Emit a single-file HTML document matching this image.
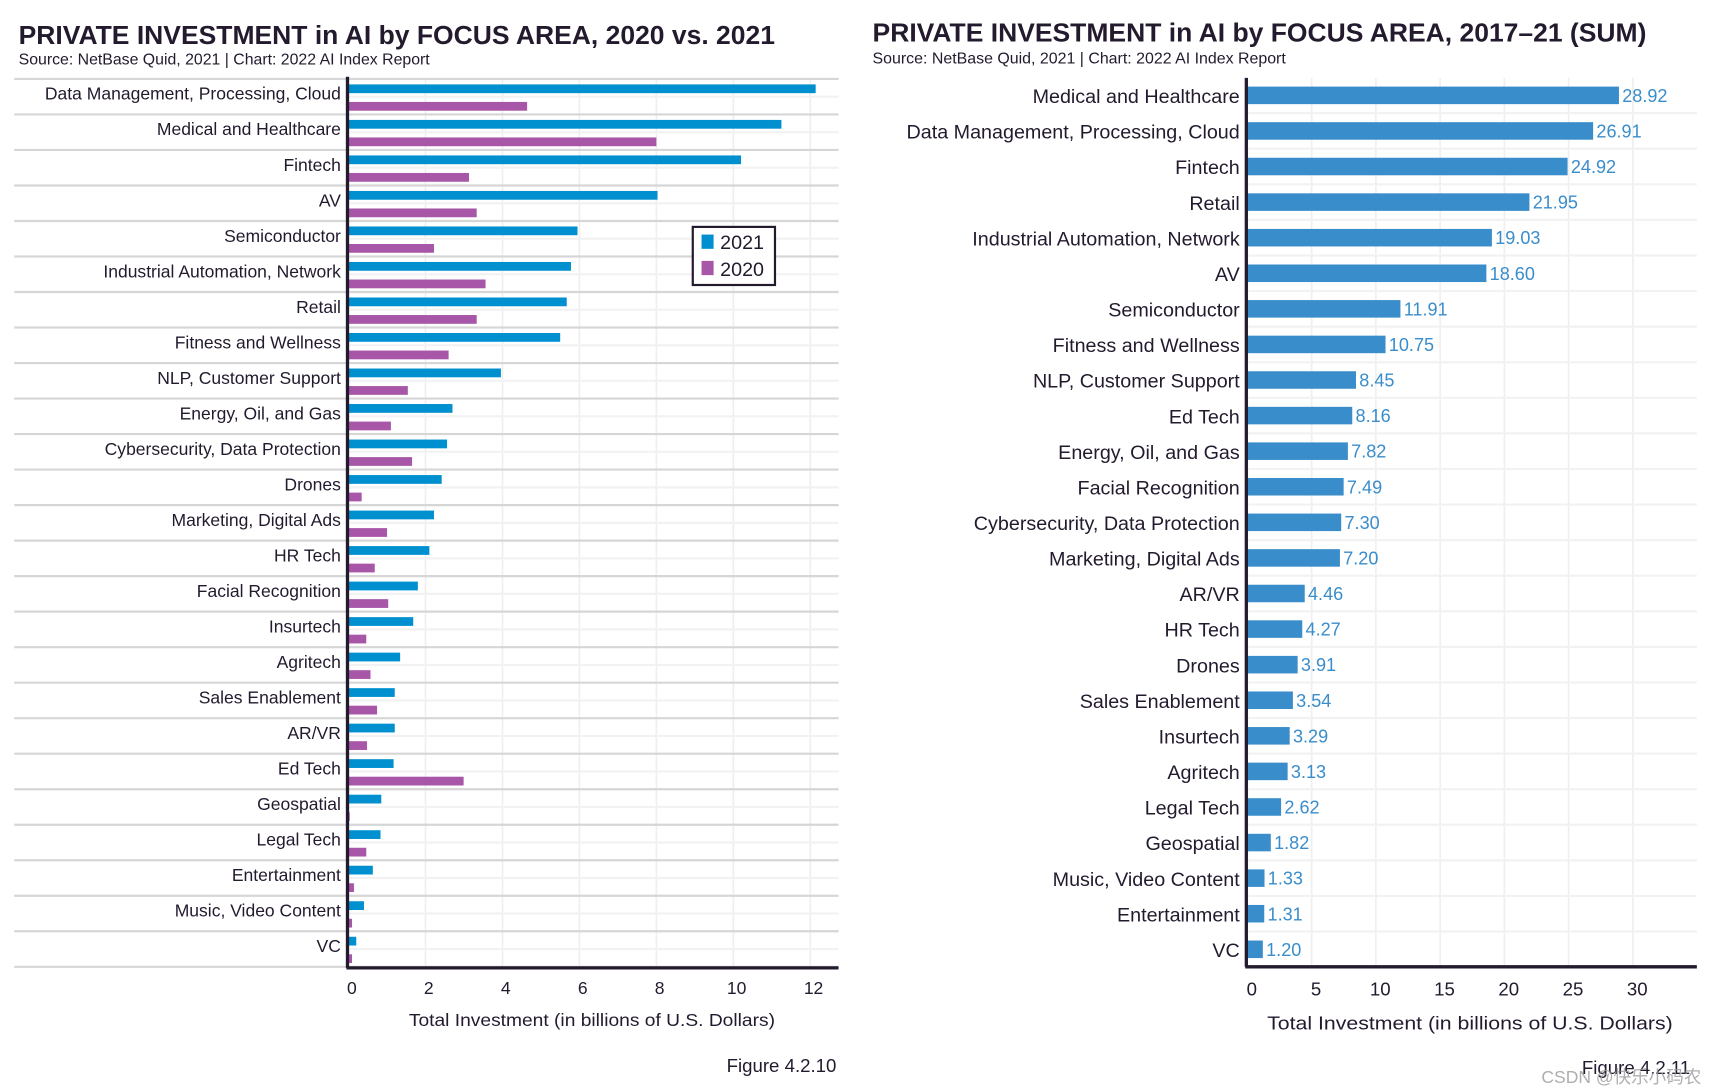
<!DOCTYPE html>
<html><head><meta charset="utf-8"><style>
html,body{margin:0;padding:0;background:#fff;}
svg{display:block;font-family:"Liberation Sans","Noto Sans CJK SC",sans-serif;}
</style></head><body>
<svg id="chart" width="1710" height="1090" viewBox="0 0 1560 994.4" preserveAspectRatio="none" xmlns="http://www.w3.org/2000/svg">
<text x="17" y="40" font-size="24" font-weight="bold" fill="#231a2e" textLength="690" lengthAdjust="spacingAndGlyphs">PRIVATE INVESTMENT in AI by FOCUS AREA, 2020 vs. 2021</text>
<text x="17" y="59" font-size="14" fill="#231a2e" textLength="375" lengthAdjust="spacingAndGlyphs">Source: NetBase Quid, 2021 | Chart: 2022 AI Index Report</text>
<text x="796" y="38" font-size="24" font-weight="bold" fill="#231a2e" textLength="706" lengthAdjust="spacingAndGlyphs">PRIVATE INVESTMENT in AI by FOCUS AREA, 2017–21 (SUM)</text>
<text x="796" y="58" font-size="14" fill="#231a2e" textLength="377" lengthAdjust="spacingAndGlyphs">Source: NetBase Quid, 2021 | Chart: 2022 AI Index Report</text>
<g id="left"></g>
<g id="right"></g>
<g>
<rect x="632" y="207" width="75" height="53" fill="#fff" stroke="#231a2e" stroke-width="2"/>
<rect x="640" y="214" width="11" height="13" fill="#0090cf"/>
<text x="657" y="227" font-size="18" fill="#231a2e">2021</text>
<rect x="640" y="238" width="11" height="13" fill="#a857a8"/>
<text x="657" y="252" font-size="18" fill="#231a2e">2020</text>
</g>
<text x="540" y="936" font-size="16" fill="#231a2e" text-anchor="middle" textLength="334" lengthAdjust="spacingAndGlyphs">Total Investment (in billions of U.S. Dollars)</text>
<text x="1341" y="939" font-size="17" fill="#231a2e" text-anchor="middle" textLength="370" lengthAdjust="spacingAndGlyphs">Total Investment (in billions of U.S. Dollars)</text>
<text x="763" y="978" font-size="17" fill="#231a2e" text-anchor="end">Figure 4.2.10</text>
<text x="1542" y="980" font-size="17" fill="#231a2e" text-anchor="end">Figure 4.2.11</text>
<text x="1552" y="988" font-size="16" fill="#9a9a9a" text-anchor="end" opacity="0.8">CSDN @快乐小码农</text>
</svg>
<script>
const leftCats=["Data Management, Processing, Cloud","Medical and Healthcare","Fintech","AV","Semiconductor","Industrial Automation, Network","Retail","Fitness and Wellness","NLP, Customer Support","Energy, Oil, and Gas","Cybersecurity, Data Protection","Drones","Marketing, Digital Ads","HR Tech","Facial Recognition","Insurtech","Agritech","Sales Enablement","AR/VR","Ed Tech","Geospatial","Legal Tech","Entertainment","Music, Video Content","VC"];
const v2021=[12.14,11.25,10.2,8.03,5.95,5.78,5.67,5.5,3.96,2.7,2.56,2.42,2.22,2.1,1.8,1.68,1.34,1.2,1.2,1.17,0.85,0.83,0.63,0.4,0.2];
const v2020=[4.64,8.0,3.13,3.33,2.22,3.56,3.33,2.6,1.54,1.1,1.65,0.34,1.0,0.68,1.03,0.46,0.57,0.74,0.48,2.99,0.03,0.46,0.14,0.09,0.09];
const leftTicks=[0,2,4,6,8,10,12];
const rightCats=["Medical and Healthcare","Data Management, Processing, Cloud","Fintech","Retail","Industrial Automation, Network","AV","Semiconductor","Fitness and Wellness","NLP, Customer Support","Ed Tech","Energy, Oil, and Gas","Facial Recognition","Cybersecurity, Data Protection","Marketing, Digital Ads","AR/VR","HR Tech","Drones","Sales Enablement","Insurtech","Agritech","Legal Tech","Geospatial","Music, Video Content","Entertainment","VC"];
const rightVals=[28.92,26.91,24.92,21.95,19.03,18.60,11.91,10.75,8.45,8.16,7.82,7.49,7.30,7.20,4.46,4.27,3.91,3.54,3.29,3.13,2.62,1.82,1.33,1.31,1.20];
const rightTicks=[0,5,10,15,20,25,30];

const NS="http://www.w3.org/2000/svg";
function mk(p,t,a){const e=document.createElementNS(NS,t);for(const k in a)e.setAttribute(k,a[k]);p.appendChild(e);return e;}
const LG=document.getElementById('left'),RG=document.getElementById('right');
const lx=v=>318+v*35.1, ltop=72, lstep=32.4, lbottom=882;
for(const t of leftTicks){
 const g=mk(LG,'line',{x1:lx(t),x2:lx(t),y1:ltop,y2:lbottom,stroke:'#efefef','stroke-width':1.5});
 
 
 const tx=mk(LG,'text',{x:lx(t)+3,y:907,'font-size':16,fill:'#231a2e','text-anchor':'middle'});tx.textContent=t;
 
 
}
leftCats.forEach((c,i)=>{
 const y0=ltop+i*lstep;
 const s=mk(LG,'line',{x1:13,x2:765,y1:y0,y2:y0,stroke:'#d6d6d6','stroke-width':2});
 
 
 mk(LG,'line',{x1:318,x2:765,y1:y0+lstep/2,y2:y0+lstep/2,stroke:'#f2f2f2','stroke-width':2});
 const b1=mk(LG,'rect',{x:318,y:y0+5,width:lx(v2021[i])-318,height:8,fill:'#0090cf'});
 
 
 const b2=mk(LG,'rect',{x:318,y:y0+21,width:lx(v2020[i])-318,height:8,fill:'#a857a8'});
 
 
 const tl=mk(LG,'text',{x:311,y:y0+19,'font-size':16,fill:'#231a2e','text-anchor':'end'});tl.textContent=c;
 
 
});
mk(LG,'line',{x1:13,x2:765,y1:lbottom,y2:lbottom,stroke:'#d6d6d6','stroke-width':2});
mk(LG,'line',{x1:317,x2:317,y1:ltop-2,y2:lbottom+1,stroke:'#231a2e','stroke-width':3});
mk(LG,'line',{x1:316,x2:765,y1:lbottom+1,y2:lbottom+1,stroke:'#231a2e','stroke-width':3});
const rx=v=>1138+v*11.72, rtop=71, rstep=32.46, rbottom=881;
for(const t of rightTicks){
 const g=mk(RG,'line',{x1:rx(t),x2:rx(t),y1:rtop,y2:rbottom,stroke:'#efefef','stroke-width':1.5});
 
 
 const tx=mk(RG,'text',{x:rx(t)+4,y:908,'font-size':17,fill:'#231a2e','text-anchor':'middle'});tx.textContent=t;
 
 
}
rightCats.forEach((c,i)=>{
 const cy=rtop+16+i*rstep;
 mk(RG,'line',{x1:1138,x2:1548,y1:cy+rstep/2,y2:cy+rstep/2,stroke:'#f2f2f2','stroke-width':2});
 const b=mk(RG,'rect',{x:1138,y:cy-8,width:rx(rightVals[i])-1138,height:16,fill:'#3a8dcb'});
 
 
 const vl=mk(RG,'text',{x:rx(rightVals[i])+3,y:cy+6,'font-size':16.5,fill:'#3a8dcb'});vl.textContent=rightVals[i].toFixed(2);
 
 
 const tl=mk(RG,'text',{x:1131,y:cy+7,'font-size':18,fill:'#231a2e','text-anchor':'end'});tl.textContent=c;
 
 
});
mk(RG,'line',{x1:1137,x2:1137,y1:rtop,y2:rbottom+1,stroke:'#231a2e','stroke-width':3});
mk(RG,'line',{x1:1136,x2:1548,y1:rbottom+1,y2:rbottom+1,stroke:'#231a2e','stroke-width':3});
</script>
</body></html>
